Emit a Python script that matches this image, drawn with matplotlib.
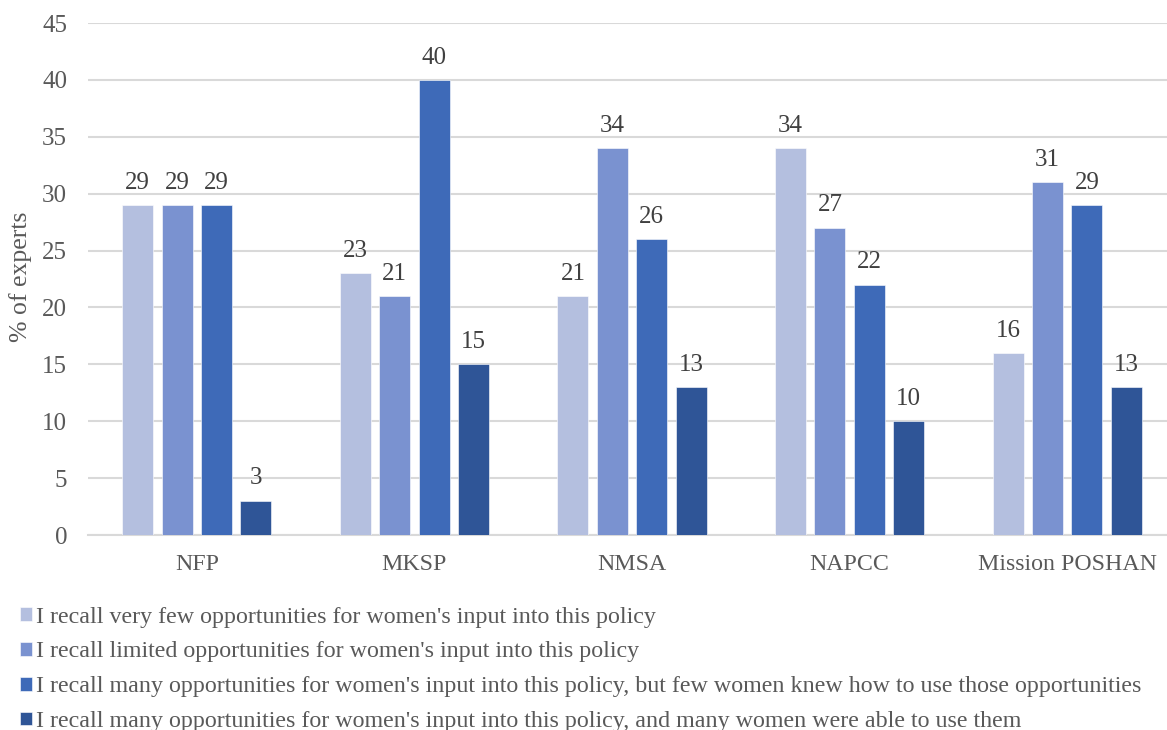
import matplotlib
matplotlib.use("Agg")
import matplotlib.pyplot as plt
import numpy as np

categories = ["NFP", "MKSP", "NMSA", "NAPCC", "Mission POSHAN"]
series_labels = [
    "I recall very few opportunities for women's input into this policy",
    "I recall limited opportunities for women's input into this policy",
    "I recall many opportunities for women's input into this policy, but few women knew how to use those opportunities",
    "I recall many opportunities for women's input into this policy, and many women were able to use them",
]
very_few = [29, 23, 21, 34, 16]
limited = [29, 21, 34, 27, 31]
many_but_few_knew = [29, 40, 26, 22, 29]
many_and_used = [3, 15, 13, 10, 13]
yticks = list(range(0, 50, 5))

series = [very_few, limited, many_but_few_knew, many_and_used]
colors = ["#B4BFDF", "#7A92D0", "#3E6AB8", "#2F5597"]

plt.rcParams["font.family"] = ["Liberation Serif", "DejaVu Serif"]
text_gray = "#595959"
label_dark = "#404040"

fig = plt.figure(figsize=(11.67, 7.3), dpi=100)
ax = fig.add_axes([88 / 1167, 195 / 730, 1088 / 1167, 512 / 730])

x = np.arange(len(categories))
width = 0.143
step = 0.181
for i, (vals, col, lab) in enumerate(zip(series, colors, series_labels)):
    pos = x + (i - 1.5) * step
    bars = ax.bar(pos, vals, width, color=col, label=lab, zorder=3,
                  edgecolor="white", linewidth=0.4)
    for b, v in zip(bars, vals):
        ax.text(b.get_x() + b.get_width() / 2, v + 1.0, f"{v}",
                ha="center", va="bottom", fontsize=18, color=label_dark)

ax.set_xlim(-0.5, len(categories) - 0.5)
ax.set_ylim(0, 45)
ax.set_yticks(yticks)
ax.set_xticks(x)
ax.set_xticklabels(categories)
ax.yaxis.grid(True, color="#D9D9D9", linewidth=1.5, zorder=0)
ax.set_axisbelow(True)
for s in ["top", "right", "left"]:
    ax.spines[s].set_visible(False)
ax.spines["bottom"].set_color("#D9D9D9")
ax.spines["bottom"].set_linewidth(1.5)
ax.tick_params(axis="both", length=0, labelcolor=text_gray)
ax.tick_params(axis="y", pad=15, labelsize=18)
ax.tick_params(axis="x", pad=13.5, labelsize=17.2)
ax.set_ylabel("% of experts", fontsize=18.5, color=text_gray)
ax.yaxis.set_label_coords(-56 / 1088, 0.504)

handles, labels = ax.get_legend_handles_labels()
leg = fig.legend(handles, labels, loc="upper left",
                 bbox_to_anchor=(10 / 1167, 1 - 597 / 730),
                 frameon=False, fontsize=17.3, labelcolor=text_gray,
                 handlelength=0.5, handleheight=0.5, handletextpad=0.2,
                 labelspacing=0.575, borderaxespad=0)

fig.savefig("out.png", dpi=100)
